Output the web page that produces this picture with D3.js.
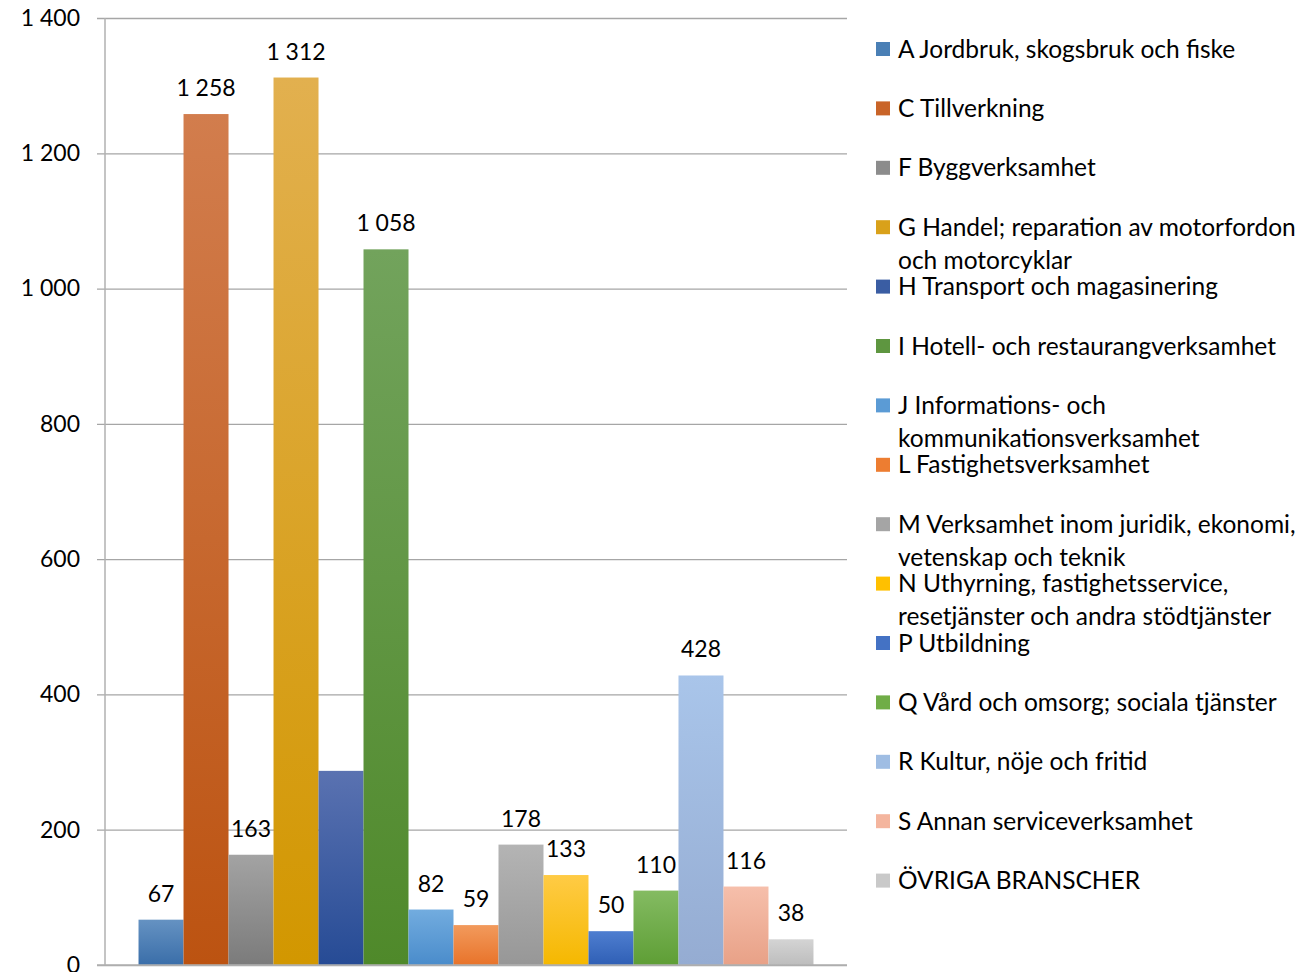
<!DOCTYPE html>
<html><head><meta charset="utf-8">
<script src="https://cdn.jsdelivr.net/npm/d3@7"></script>
<style>
html,body{margin:0;padding:0;background:#fff;}
svg{display:block;}
text{font-family:Lato,"Open Sans",sans-serif;fill:#000;}
</style></head>
<body>
<svg id="chart" width="1309" height="972"></svg>
<script>
const categories = [
  "A Jordbruk, skogsbruk och fiske",
  "C Tillverkning",
  "F Byggverksamhet",
  "G Handel; reparation av motorfordon och motorcyklar",
  "H Transport och magasinering",
  "I Hotell- och restaurangverksamhet",
  "J Informations- och kommunikationsverksamhet",
  "L Fastighetsverksamhet",
  "M Verksamhet inom juridik, ekonomi, vetenskap och teknik",
  "N Uthyrning, fastighetsservice, resetjänster och andra stödtjänster",
  "P Utbildning",
  "Q Vård och omsorg; sociala tjänster",
  "R Kultur, nöje och fritid",
  "S Annan serviceverksamhet",
  "ÖVRIGA BRANSCHER"
];
const values = [67, 1258, 163, 1312, 287, 1058, 82, 59, 178, 133, 50, 110, 428, 116, 38];
const showLabel = [true, true, true, true, false, true, true, true, true, true, true, true, true, true, true];
const yTicks = [0, 200, 400, 600, 800, 1000, 1200, 1400];
const colorsTop = ["#6592c2","#d27d4d","#a3a3a3","#e2b04f","#5a72b1","#72a35c","#72acdf","#f29a5c","#b4b4b4","#ffcb45","#4e7ed0","#84bb62","#a9c5ea","#f6bfab","#d4d4d4"];
const colorsBot = ["#3a6ea9","#bc5311","#7b7b7b","#d29700","#264b95","#4f892a","#4a8ccb","#e8732a","#979797","#f5b800","#2f5fb5","#5e9e35","#95acd2","#e8a187","#bdbdbd"];
const colorsMid = ["#4a7fb5","#c96428","#8c8c8c","#d9a11a","#3a5da3","#5e9640","#5b9bd5","#ed7d31","#a5a5a5","#ffc000","#4472c4","#70ad47","#9fbde3","#f4b59e","#c9c9c9"];

const rows = categories.map((c, i) => ({name: c, value: values[i], label: showLabel[i], i}));

const svg = d3.select("#chart");
const plotLeft = 105, plotRight = 847, plotTop = 18, plotBottom = 965;

const y = d3.scaleLinear().domain([0, 1400]).range([plotBottom, plotTop]);
const x = d3.scaleBand().domain(categories).range([plotLeft, plotRight]).paddingInner(0).paddingOuter(0.745);

const loc = d3.formatLocale({decimal: ",", thousands: "\u00a0", grouping: [3], currency: ["", " kr"]});
const fmt = loc.format(",d");

// gradients
const defs = svg.append("defs");
rows.forEach(r => {
  const g = defs.append("linearGradient").attr("id", "g" + r.i)
    .attr("x1", 0).attr("y1", 0).attr("x2", 0).attr("y2", 1);
  g.append("stop").attr("offset", "0%").attr("stop-color", colorsTop[r.i]);
  g.append("stop").attr("offset", "100%").attr("stop-color", colorsBot[r.i]);
});

// gridlines + y axis
const yAxis = d3.axisLeft(y).tickValues(yTicks).tickFormat(fmt)
  .tickSize(-(plotRight - plotLeft)).tickPadding(25);
const ga = svg.append("g").attr("transform", `translate(${plotLeft},0)`).call(yAxis);
ga.select(".domain").remove();
ga.selectAll(".tick line").attr("stroke", "#a6a6a6").attr("stroke-width", 1.3).attr("x1", -8);
ga.selectAll(".tick text").attr("font-size", 23).attr("font-family", "Lato").attr("fill", "#000");

// bars
svg.append("g").selectAll("rect").data(rows).join("rect")
  .attr("x", d => x(d.name))
  .attr("width", x.bandwidth())
  .attr("y", d => y(d.value))
  .attr("height", d => y(0) - y(d.value))
  .attr("fill", d => `url(#g${d.i})`);

// axis lines
svg.append("line").attr("x1", plotLeft).attr("x2", plotLeft).attr("y1", plotTop).attr("y2", plotBottom)
  .attr("stroke", "#b0b0b0").attr("stroke-width", 1.5);
svg.append("line").attr("x1", plotLeft - 8).attr("x2", plotRight).attr("y1", plotBottom).attr("y2", plotBottom)
  .attr("stroke", "#b0b0b0").attr("stroke-width", 1.5);

// data labels
svg.append("g").selectAll("text").data(rows.filter(d => d.label)).join("text")
  .attr("x", d => x(d.name) + x.bandwidth() / 2)
  .attr("y", d => y(d.value) - 18)
  .attr("text-anchor", "middle")
  .attr("font-size", 23)
  .text(d => fmt(d.value));

// legend
const lg = svg.append("g");
const legX = 876, legStep = 59.4, legY0 = 49, maxW = 416;
rows.forEach(r => {
  const cy = legY0 + r.i * legStep;
  lg.append("rect").attr("x", legX).attr("y", cy - 7).attr("width", 14).attr("height", 14).attr("fill", colorsMid[r.i]);
  const t = lg.append("text").attr("x", legX + 22).attr("y", cy + 8.5).attr("font-size", 24.5);
  const words = r.name.split(" ");
  let line = [];
  let ts = t.append("tspan").attr("x", legX + 22).attr("dy", 0);
  words.forEach(w => {
    line.push(w);
    ts.text(line.join(" "));
    if (ts.node().getComputedTextLength() > maxW && line.length > 1) {
      line.pop();
      ts.text(line.join(" "));
      line = [w];
      ts = t.append("tspan").attr("x", legX + 22).attr("dy", 33).text(w);
    }
  });
});
</script>
</body></html>
